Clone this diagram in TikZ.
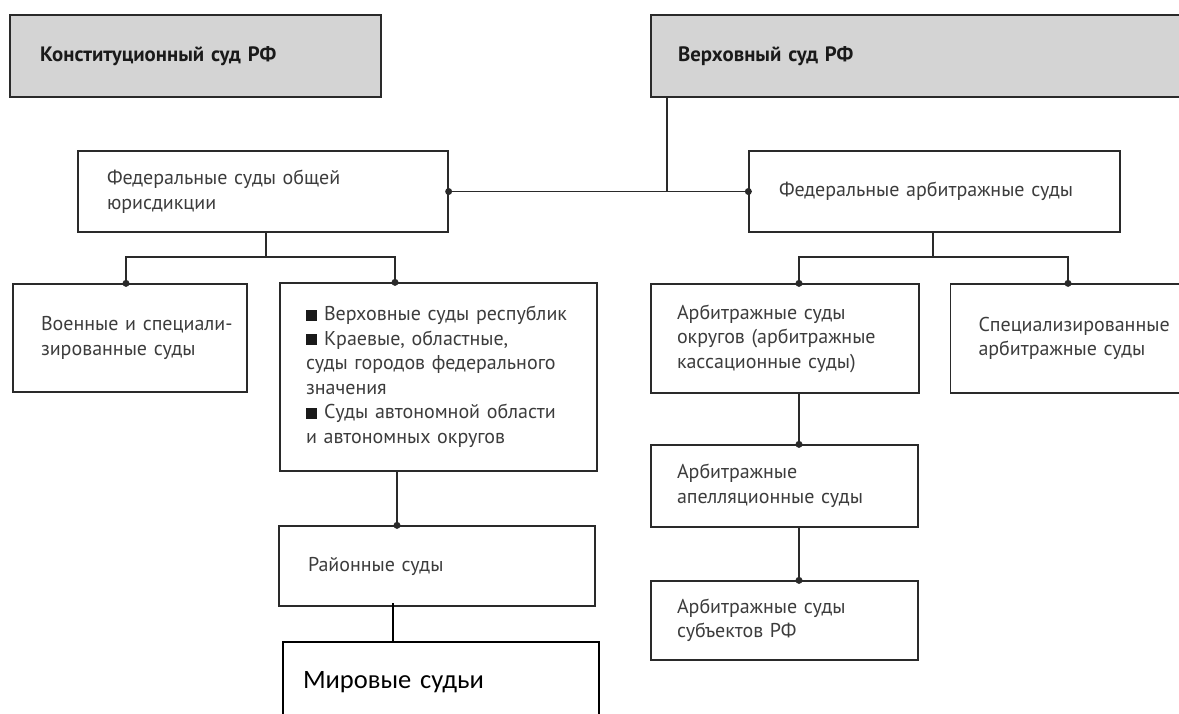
\documentclass[tikz,border=0pt]{standalone}
\usepackage{fontspec}
\setmainfont{PT Sans}
\newfontfamily\carl{Carlito}
\definecolor{boxgray}{HTML}{D4D4D4}
\definecolor{txt}{HTML}{3C3C3C}
\definecolor{ttl}{HTML}{1A1A1A}
\definecolor{lin}{HTML}{2A2A2A}
\newcommand{\bul}{\textcolor{ttl}{\rule{11pt}{11pt}}\hspace{7pt}}
\begin{document}
\begin{tikzpicture}[x=1pt,y=-1pt,
  box/.style={draw=lin, line width=1.3pt, rectangle, inner ysep=0pt, align=left, text=txt,
    font=\fontsize{20}{24.5}\selectfont},
  titlebox/.style={box, fill=boxgray, text=ttl, font=\fontsize{20.8}{25}\selectfont\bfseries},
  conn/.style={draw=lin, line width=1.6pt},
  dot/.style={fill=lin}]
\useasboundingbox (0,0) rectangle (1179,713);
\clip (0,0) rectangle (1179,713);

\node[titlebox, minimum height=82, text width=311, inner xsep=30] (konst) at (195.5,56) {Конституционный суд РФ};
\node[titlebox, minimum height=82, text width=495, inner xsep=27] (verh) at (925.5,56) {Верховный суд РФ};

\node[box, minimum height=81, text width=312, inner xsep=29] (fedobsh) at (263,191.5) {Федеральные суды общей\\юрисдикции};
\node[box, minimum height=81, text width=311, inner xsep=30] (fedarb) at (934.5,191.5) {Федеральные арбитражные суды};

\node[box, minimum height=108, text width=178, inner xsep=28] (voen) at (130,338) {\mbox{Военные и специали-}\\\mbox{зированные суды}};
\node[box, minimum height=188, text width=265, inner xsep=26] (bullet) at (438.5,377) {\mbox{\bul Верховные суды республик}\\\mbox{\bul Краевые, областные,}\\\mbox{суды городов федерального}\\значения\\\mbox{\bul Суды автономной области}\\\mbox{и автономных округов}};
\node[box, minimum height=80, text width=258, inner xsep=29] (raion) at (437,566) {Районные суды};
\node[box, draw=black, line width=1.2pt, text=black, minimum height=80, text width=276, inner xsep=20,
  font=\carl\fontsize{26.5}{30}\selectfont] (mir) at (441,682) {Мировые судьи};

\node[box, minimum height=109, text width=216, inner xsep=26] (okrug) at (785,338.5) {Арбитражные суды\\округов (арбитражные\\кассационные суды)};
\node[box, minimum height=109, text width=223, inner xsep=28] (spec) at (1090,338.5) {Специализированные\\арбитражные суды};
\node[box, minimum height=82, text width=215, inner xsep=26] (apell) at (784.5,486) {Арбитражные\\апелляционные суды};
\node[box, minimum height=79, text width=215, inner xsep=26] (subj) at (784.5,620.5) {Арбитражные суды\\субъектов РФ};

% connectors
\coordinate (jA) at (667,191.5);
\coordinate (jB) at (266,257);
\coordinate (bl) at (126,257);
\coordinate (br) at (395,257);
\coordinate (c1) at (397,500);
\coordinate (c2) at (393,603);
\coordinate (jC) at (933,257);
\coordinate (rl) at (799,257);
\coordinate (rr) at (1068,257);

\draw[conn] (fedobsh.east) -- (fedarb.west);
\draw[conn] (verh.south -| jA) -- (jA);
\draw[conn] (fedobsh.south -| jB) -- (jB);
\draw[conn] (voen.north -| bl) -- (bl) -- (br) -- (bullet.north -| br);
\draw[conn] (bullet.south -| c1) -- (raion.north -| c1);
\draw[draw=black, line width=1.2pt] (c2) -- (mir.north -| c2);
\draw[conn] (fedarb.south -| jC) -- (jC);
\draw[conn] (okrug.north -| rl) -- (rl) -- (rr) -- (spec.north -| rr);
\draw[conn] (okrug.south -| rl) -- (apell.north -| rl);
\draw[conn] (apell.south -| rl) -- (subj.north -| rl);

\fill[dot] (fedobsh.east) circle (3.5);
\fill[dot] (fedarb.west) circle (3.5);
\fill[dot] (voen.north -| bl) circle (3.5);
\fill[dot] (bullet.north -| br) circle (3.5);
\fill[dot] (raion.north -| c1) circle (3.5);
\fill[dot] (okrug.north -| rl) circle (3.5);
\fill[dot] (spec.north -| rr) circle (3.5);
\fill[dot] (apell.north -| rl) circle (3.5);
\fill[dot] (subj.north -| rl) circle (3.5);
\end{tikzpicture}
\end{document}
